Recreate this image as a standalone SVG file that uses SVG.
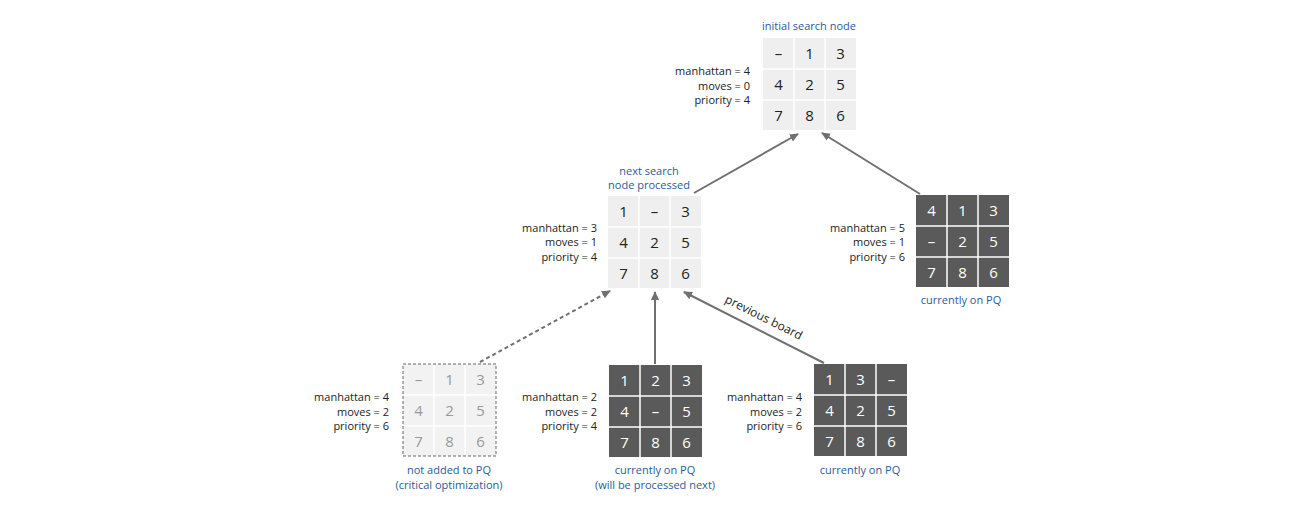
<svg xmlns="http://www.w3.org/2000/svg" width="1313" height="512" viewBox="0 0 1313 512">
<style>
text{font-family:"Open Sans","Liberation Sans",sans-serif}
.n{font-size:15px;text-anchor:middle}
.lt rect{fill:#efefef}
.lt text{fill:#222}
.dk rect{fill:#5a5a5a}
.dk text{fill:#fff}
.gh rect{fill:#f2f2f2}
.gh text{fill:#999}
.g{stroke:#fff;stroke-width:1.5}
.st{font-size:11px;text-anchor:end;fill:#222}
.cap{font-size:11px;text-anchor:middle;fill:#2a5c9a}
.c{stroke:#707070;stroke-width:2;fill:none;marker-end:url(#a)}
</style>
<defs>
<marker id="a" markerWidth="10" markerHeight="10" refX="8" refY="5" orient="auto" markerUnits="userSpaceOnUse"><path d="M0,1 L9,5 L0,9 Z" fill="#707070"/></marker>
<g id="grid"><path class="g" d="M31,0V92M62,0V92M0,31H93M0,62H93"/></g>
</defs>
<g id="connectors">
<line class="c" x1="694" y1="193" x2="798" y2="134"/>
<line class="c" x1="920" y1="194" x2="822" y2="133"/>
<line class="c" x1="655" y1="364" x2="655" y2="292"/>
<line class="c" x1="824" y1="363" x2="684" y2="292"/>
<line class="c" x1="480" y1="362" x2="610" y2="291" stroke-dasharray="4,3"/>
<text transform="translate(762,321) rotate(26.7)" font-size="12" text-anchor="middle" fill="#222">previous board</text>
</g>
<g id="n0" class="lt" transform="translate(763,38)">
<rect width="93" height="92"/><use href="#grid"/>
<text class="n" x="15.5" y="21">–</text><text class="n" x="46.5" y="21">1</text><text class="n" x="77.5" y="21">3</text>
<text class="n" x="15.5" y="52">4</text><text class="n" x="46.5" y="52">2</text><text class="n" x="77.5" y="52">5</text>
<text class="n" x="15.5" y="83">7</text><text class="n" x="46.5" y="83">8</text><text class="n" x="77.5" y="83">6</text>
</g>
<text class="cap" x="809" y="30">initial search node</text>
<text class="st"><tspan x="750" y="75">manhattan = 4</tspan><tspan x="750" y="90">moves = 0</tspan><tspan x="750" y="104">priority = 4</tspan></text>

<g id="n1" class="lt" transform="translate(608,196)">
<rect width="93" height="92"/><use href="#grid"/>
<text class="n" x="15.5" y="21">1</text><text class="n" x="46.5" y="21">–</text><text class="n" x="77.5" y="21">3</text>
<text class="n" x="15.5" y="52">4</text><text class="n" x="46.5" y="52">2</text><text class="n" x="77.5" y="52">5</text>
<text class="n" x="15.5" y="83">7</text><text class="n" x="46.5" y="83">8</text><text class="n" x="77.5" y="83">6</text>
</g>
<text class="cap"><tspan x="649" y="175">next search</tspan><tspan x="649" y="189">node processed</tspan></text>
<text class="st"><tspan x="597" y="232">manhattan = 3</tspan><tspan x="597" y="246">moves = 1</tspan><tspan x="597" y="261">priority = 4</tspan></text>

<g id="n2" class="dk" transform="translate(916,195)">
<rect width="93" height="92"/><use href="#grid"/>
<text class="n" x="15.5" y="21">4</text><text class="n" x="46.5" y="21">1</text><text class="n" x="77.5" y="21">3</text>
<text class="n" x="15.5" y="52">–</text><text class="n" x="46.5" y="52">2</text><text class="n" x="77.5" y="52">5</text>
<text class="n" x="15.5" y="83">7</text><text class="n" x="46.5" y="83">8</text><text class="n" x="77.5" y="83">6</text>
</g>
<text class="cap" x="961" y="304">currently on PQ</text>
<text class="st"><tspan x="905" y="232">manhattan = 5</tspan><tspan x="905" y="246">moves = 1</tspan><tspan x="905" y="261">priority = 6</tspan></text>

<g id="n3" class="gh" transform="translate(403,364)">
<rect width="93" height="92"/><use href="#grid"/>
<rect width="93" height="92" fill="none" style="fill:none" stroke="#666" stroke-dasharray="3,2"/>
<text class="n" x="15.5" y="21">–</text><text class="n" x="46.5" y="21">1</text><text class="n" x="77.5" y="21">3</text>
<text class="n" x="15.5" y="52">4</text><text class="n" x="46.5" y="52">2</text><text class="n" x="77.5" y="52">5</text>
<text class="n" x="15.5" y="83">7</text><text class="n" x="46.5" y="83">8</text><text class="n" x="77.5" y="83">6</text>
</g>
<text class="cap"><tspan x="449" y="474">not added to PQ</tspan><tspan x="449" y="489">(critical optimization)</tspan></text>
<text class="st"><tspan x="389" y="401">manhattan = 4</tspan><tspan x="389" y="416">moves = 2</tspan><tspan x="389" y="430">priority = 6</tspan></text>

<g id="n4" class="dk" transform="translate(609,365)">
<rect width="93" height="92"/><use href="#grid"/>
<text class="n" x="15.5" y="21">1</text><text class="n" x="46.5" y="21">2</text><text class="n" x="77.5" y="21">3</text>
<text class="n" x="15.5" y="52">4</text><text class="n" x="46.5" y="52">–</text><text class="n" x="77.5" y="52">5</text>
<text class="n" x="15.5" y="83">7</text><text class="n" x="46.5" y="83">8</text><text class="n" x="77.5" y="83">6</text>
</g>
<text class="cap"><tspan x="655" y="474">currently on PQ</tspan><tspan x="655" y="489">(will be processed next)</tspan></text>
<text class="st"><tspan x="597" y="401">manhattan = 2</tspan><tspan x="597" y="416">moves = 2</tspan><tspan x="597" y="430">priority = 4</tspan></text>

<g id="n5" class="dk" transform="translate(814,364)">
<rect width="93" height="92"/><use href="#grid"/>
<text class="n" x="15.5" y="21">1</text><text class="n" x="46.5" y="21">3</text><text class="n" x="77.5" y="21">–</text>
<text class="n" x="15.5" y="52">4</text><text class="n" x="46.5" y="52">2</text><text class="n" x="77.5" y="52">5</text>
<text class="n" x="15.5" y="83">7</text><text class="n" x="46.5" y="83">8</text><text class="n" x="77.5" y="83">6</text>
</g>
<text class="cap" x="860" y="474">currently on PQ</text>
<text class="st"><tspan x="802" y="401">manhattan = 4</tspan><tspan x="802" y="416">moves = 2</tspan><tspan x="802" y="430">priority = 6</tspan></text>
</svg>
